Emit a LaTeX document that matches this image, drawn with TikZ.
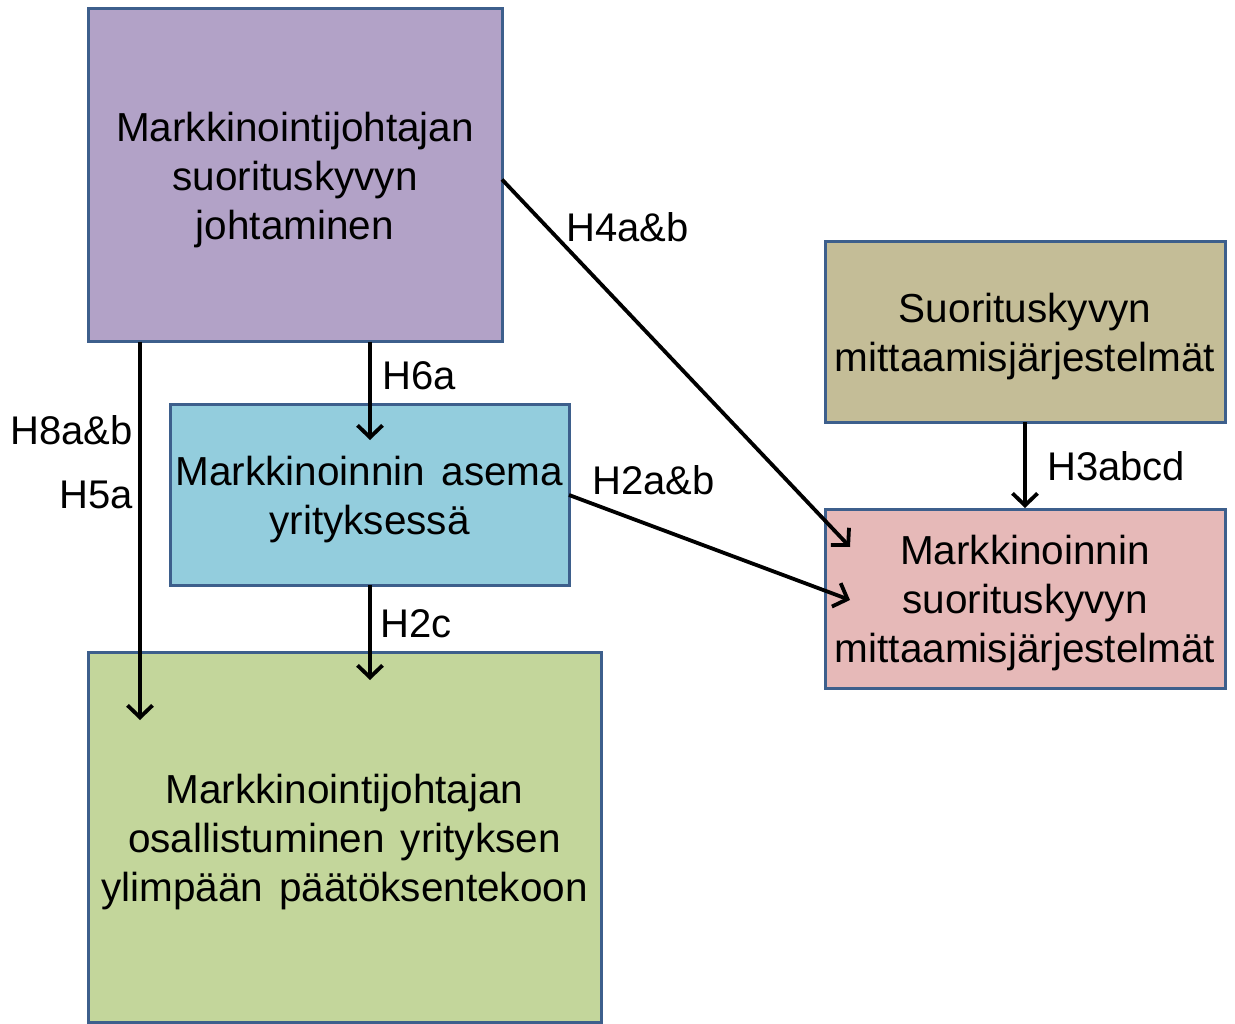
\documentclass[tikz,border=0pt]{standalone}
\usepackage{fontspec}
\setmainfont{Liberation Sans}
\usetikzlibrary{arrows.meta}
\definecolor{bordc}{HTML}{3D5F8C}
\definecolor{purplef}{HTML}{B2A2C7}
\definecolor{bluef}{HTML}{93CDDD}
\definecolor{greenf}{HTML}{C3D69B}
\definecolor{tanf}{HTML}{C4BD97}
\definecolor{pinkf}{HTML}{E6B9B8}
\newcommand{\wsp}{\hspace{0.4em}}
\tikzset{
  boxnode/.style={draw=bordc, line width=3pt, inner sep=0pt, outer sep=0pt},
  boxtext/.style={align=center, inner sep=0pt, font=\fontsize{40.5}{49}\selectfont},
  conn/.style={line width=3.8pt, -{Straight Barb[length=12pt,width=25pt]}},
  lbl/.style={font=\fontsize{40}{48}\selectfont, inner sep=0pt}
}
\begin{document}
\begin{tikzpicture}[x=1pt,y=-1pt]
\useasboundingbox[fill=white] (0,0) rectangle (1235,1024);
\node[boxnode, fill=purplef, minimum width=414pt, minimum height=333pt] (pur) at (295,175.5) {};
\node[boxnode, fill=bluef, minimum width=399pt, minimum height=180pt] (blu) at (369.5,495) {};
\node[boxnode, fill=greenf, minimum width=513pt, minimum height=370pt] (grn) at (344.5,837) {};
\node[boxnode, fill=tanf, minimum width=400pt, minimum height=180pt] (tan) at (1025,332) {};
\node[boxnode, fill=pinkf, minimum width=400pt, minimum height=179pt] (pnk) at (1025,598.5) {};

\node[boxtext, yshift=-5pt] (purt) at (pur.center) {Markkinointijohtajan\\suorituskyvyn\\johtaminen};
\node[boxtext, yshift=-5pt] (blut) at (blu.center) {Markkinoinnin\wsp asema\\yrityksessä};
\node[boxtext, yshift=-5pt] (grnt) at (grn.center) {Markkinointijohtajan\\osallistuminen\wsp yrityksen\\ylimpään\wsp päätöksentekoon};
\node[boxtext, yshift=-5pt] (tant) at (tan.center) {Suorituskyvyn\\mittaamisjärjestelmät};
\node[boxtext, yshift=-5pt] (pnkt) at (pnk.center) {Markkinoinnin\\suorituskyvyn\\mittaamisjärjestelmät};

\coordinate (t1) at (140,720);
\coordinate (t2) at (370,440);
\coordinate (t3) at (370,680);
\coordinate (t4) at (850,547);
\coordinate (t5) at (850,600);
\coordinate (t6) at (1025,508);

\draw[conn] (pur.south -| t1) -- (t1);
\draw[conn] (pur.south -| t2) -- (t2);
\draw[conn] (blu.south -| t3) -- (t3);
\draw[conn] ([yshift=-4pt]pur.east) -- (t4);
\draw[conn] (blu.east) -- (t5);
\draw[conn] (tan.south) -- (t6);

\node[lbl, anchor=east] (l1) at (133,430) {H8a\&b};
\node[lbl, anchor=east] (l2) at (133,495) {H5a};
\node[lbl, anchor=west] (l3) at (382,376) {H6a};
\node[lbl, anchor=west] (l4) at (380,624) {H2c};
\node[lbl, anchor=west] (l5) at (566,227) {H4a\&b};
\node[lbl, anchor=west] (l6) at (592,480) {H2a\&b};
\node[lbl, anchor=west] (l7) at (1047,466) {H3abcd};
\end{tikzpicture}
\end{document}
